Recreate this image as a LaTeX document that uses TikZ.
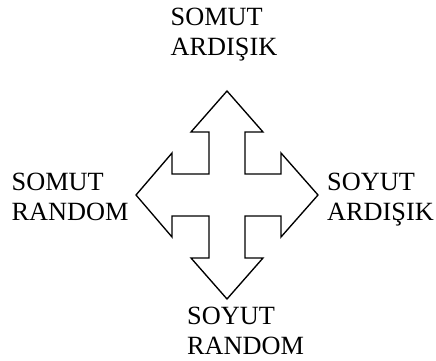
\documentclass[tikz,border=0pt]{standalone}
\usepackage{fontspec}
\setmainfont{Liberation Serif}
\usepackage{tikz}
\usetikzlibrary{positioning,calc}

\tikzset{
  quad/.style={draw,line width=1.35pt,line join=miter,fill=white},
  corner/.style={anchor=north west,inner sep=0pt,align=left,
    font=\fontsize{26.3}{30}\selectfont}
}

\begin{document}
\begin{tikzpicture}[x=1pt,y=-1pt]
  \useasboundingbox (0,0) rectangle (436,361);
  \coordinate (c) at (227,195);

  % Four-way arrow around the centre
  \draw[quad,shift={(c)}]
    (0,-104) -- (36,-63) -- (18,-63) -- (18,-21) -- (54,-21) -- (54,-42)
    -- (91,0) -- (54,42) -- (54,21) -- (18,21) -- (18,63) -- (36,63)
    -- (0,104) -- (-36,63) -- (-18,63) -- (-18,21) -- (-55,21) -- (-55,42)
    -- (-91,0) -- (-55,-42) -- (-55,-21) -- (-18,-21) -- (-18,-63)
    -- (-36,-63) -- cycle;

  % Quadrant labels
  \node[corner] (sa) at (170.5,8) {SOMUT\\ARDIŞIK};
  \node[corner] (sr) at (11.5,173) {SOMUT\\RANDOM};
  \node[corner] (ya) at (327,173) {SOYUT\\ARDIŞIK};
  \node[corner] (yr) at (187,306.5) {SOYUT\\RANDOM};
\end{tikzpicture}
\end{document}
